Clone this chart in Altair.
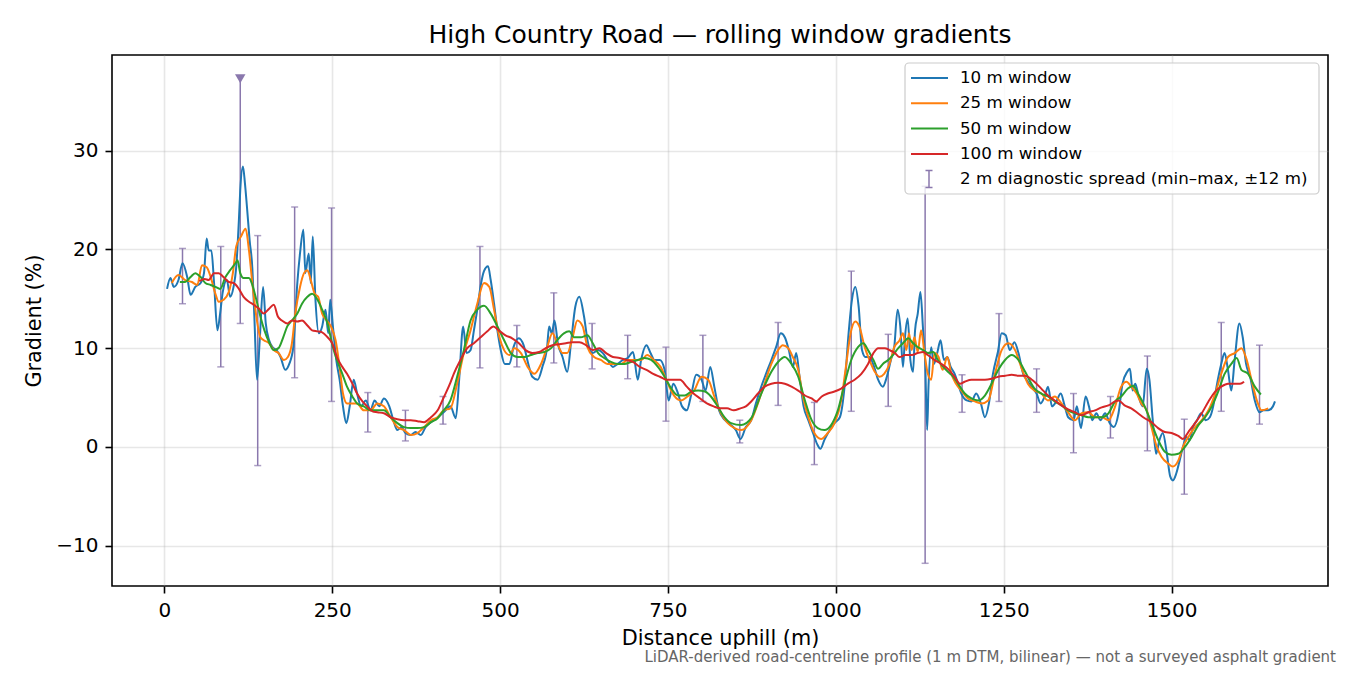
import altair as alt
import pandas as pd

FONT = "DejaVu Sans"
TITLE = "High Country Road — rolling window gradients"
NOTE = "LiDAR-derived road-centreline profile (1 m DTM, bilinear) — not a surveyed asphalt gradient"

labels = ["10 m window", "25 m window", "50 m window", "100 m window"]
colors = ["#1f77b4", "#ff7f0e", "#2ca02c", "#d62728"]
spread_label = "2 m diagnostic spread (min–max, ±12 m)"

# 10 m window (distance m, gradient %)
d10 = [4, 9, 14, 21, 27, 34, 39, 46, 54, 59, 63, 66, 70, 74, 79, 83, 87, 93, 98, 103,
       107, 111, 113, 117, 120, 123, 127, 131, 134, 138, 142, 147, 151, 156, 161, 167, 173, 180, 186, 192,
       198, 202, 207, 210, 215, 218, 221, 225, 230, 235, 240, 244, 247, 251, 256, 261, 266, 271, 276, 282,
       287, 293, 300, 307, 313, 320, 327, 335, 341, 347, 353, 359, 367, 374, 382, 389, 397, 407, 416, 426,
       434, 439, 445, 450, 456, 461, 466, 471, 476, 482, 486, 491, 496, 501, 507, 514, 520, 528, 535, 542,
       548, 556, 563, 570, 573, 577, 581, 586, 593, 600, 606, 612, 618, 625, 631, 638, 646, 653, 660, 668,
       675, 683, 690, 698, 705, 710, 718, 724, 730, 738, 745, 751, 758, 765, 771, 778, 785, 792, 800, 806,
       813, 819, 826, 835, 844, 851, 858, 866, 874, 881, 889, 896, 904, 911, 918, 924, 930, 936, 941, 946,
       952, 959, 966, 972, 977, 983, 991, 998, 1006, 1013, 1019, 1024, 1029, 1034, 1039, 1044, 1050, 1057, 1063, 1070,
       1076, 1082, 1087, 1092, 1096, 1100, 1103, 1107, 1111, 1115, 1118, 1122, 1126, 1130, 1133, 1136, 1138, 1142, 1146, 1151,
       1156, 1161, 1166, 1171, 1177, 1182, 1187, 1195, 1202, 1209, 1216, 1222, 1228, 1234, 1241, 1247, 1253, 1259, 1266, 1272,
       1279, 1284, 1291, 1299, 1305, 1311, 1316, 1322, 1329, 1335, 1341, 1346, 1354, 1359, 1365, 1372, 1377, 1382, 1388, 1394,
       1401, 1408, 1414, 1421, 1427, 1434, 1438, 1442, 1446, 1451, 1457, 1463, 1467, 1472, 1477, 1482, 1487, 1493, 1498, 1502,
       1507, 1512, 1517, 1522, 1527, 1532, 1538, 1544, 1551, 1557, 1562, 1567, 1574, 1579, 1584, 1589, 1594, 1601, 1606, 1611,
       1617, 1624, 1631, 1637, 1644, 1651, 1654]
g10 = [16.0, 17.1, 16.2, 16.9, 18.6, 17.2, 15.4, 16.2, 16.6, 17.6, 21.1, 19.9, 19.9, 16.6, 11.8, 13.5, 15.7, 16.9, 15.2, 16.2,
       18.2, 23.0, 26.0, 28.4, 26.7, 24.3, 20.9, 18.1, 13.2, 6.8, 10.8, 16.2, 12.5, 10.8, 10.1, 9.8, 9.1, 7.8, 8.4, 10.1,
       16.6, 19.6, 22.0, 17.6, 19.6, 16.6, 21.3, 14.9, 11.5, 12.2, 13.9, 11.5, 14.9, 12.2, 8.8, 6.8, 4.1, 2.4, 4.1, 6.8,
       5.4, 4.1, 4.7, 3.7, 4.7, 4.1, 4.9, 4.1, 2.7, 1.7, 2.0, 1.4, 1.2, 1.5, 1.2, 2.0, 2.5, 3.0, 3.5, 4.1,
       2.9, 6.8, 12.2, 9.5, 9.8, 11.8, 13.9, 16.3, 17.8, 18.3, 16.9, 14.5, 11.8, 9.8, 8.4, 8.4, 10.1, 11.0, 10.3, 8.4,
       7.1, 6.8, 8.1, 10.1, 12.2, 11.5, 12.8, 10.5, 9.1, 7.6, 10.8, 14.2, 15.2, 13.2, 10.5, 9.5, 9.8, 9.5, 8.8, 8.1,
       8.4, 8.8, 9.0, 9.6, 6.8, 8.8, 10.3, 9.5, 8.8, 8.8, 7.8, 4.7, 6.4, 5.4, 4.1, 3.7, 5.4, 7.3, 6.8, 5.7,
       8.1, 6.1, 3.7, 2.7, 2.2, 1.7, 0.8, 2.0, 2.7, 4.4, 6.1, 7.4, 8.8, 10.1, 11.5, 11.1, 9.8, 8.1, 9.5, 7.1,
       4.1, 2.7, 1.4, 0.3, -0.2, 0.7, 1.7, 2.4, 3.0, 6.1, 11.5, 14.9, 16.2, 14.2, 9.8, 9.1, 9.1, 8.1, 6.8, 6.1,
       7.1, 8.8, 10.1, 13.9, 12.2, 8.1, 11.1, 13.0, 8.8, 7.6, 11.8, 13.5, 15.7, 11.8, 8.8, 1.7, 6.1, 10.1, 8.4, 9.5,
       10.8, 8.8, 9.1, 8.1, 7.4, 6.4, 5.4, 4.7, 4.6, 5.4, 4.4, 3.0, 4.4, 7.4, 9.5, 11.5, 11.3, 9.8, 10.6, 9.5,
       7.4, 6.8, 6.1, 5.4, 4.4, 5.1, 6.1, 4.1, 4.7, 5.4, 4.1, 3.0, 2.7, 4.1, 1.9, 5.1, 4.1, 2.7, 3.4, 2.7,
       3.4, 2.4, 2.0, 3.4, 6.4, 7.6, 7.9, 5.7, 6.4, 5.1, 4.1, 7.9, 6.8, 2.7, -0.7, 0.7, 1.4, -0.7, -3.0, -3.4,
       -2.7, -1.4, 0.0, 1.0, 0.7, 2.0, 2.7, 3.4, 2.7, 3.0, 4.1, 6.1, 8.4, 9.5, 7.8, 5.7, 8.8, 12.5, 11.1, 8.4,
       7.1, 4.7, 3.5, 3.7, 3.7, 4.1, 4.6]

# 25 m window
d25 = [11, 21, 31, 41, 49, 56, 63, 69, 76, 81, 88, 96, 102, 107, 114, 121, 126, 131, 137, 143,
       148, 156, 163, 170, 178, 184, 190, 195, 202, 208, 213, 218, 224, 229, 235, 242, 248, 255, 261, 266,
       272, 280, 287, 297, 307, 317, 327, 337, 347, 357, 367, 377, 387, 397, 407, 416, 426, 436, 446, 456,
       466, 476, 484, 491, 499, 506, 514, 521, 531, 541, 551, 561, 570, 578, 585, 593, 600, 608, 615, 623,
       630, 640, 650, 660, 670, 680, 690, 700, 710, 719, 729, 739, 750, 760, 769, 779, 789, 800, 810, 819,
       829, 839, 849, 859, 874, 889, 904, 914, 921, 929, 936, 944, 951, 959, 968, 978, 988, 998, 1008, 1015,
       1022, 1029, 1035, 1043, 1050, 1058, 1065, 1072, 1080, 1087, 1095, 1100, 1105, 1109, 1113, 1117, 1122, 1127, 1132, 1137,
       1142, 1147, 1153, 1159, 1166, 1172, 1179, 1187, 1197, 1207, 1217, 1227, 1237, 1247, 1257, 1267, 1277, 1286, 1296, 1306,
       1316, 1326, 1336, 1346, 1356, 1366, 1376, 1386, 1396, 1406, 1416, 1425, 1433, 1440, 1448, 1455, 1463, 1470, 1478, 1485,
       1495, 1502, 1510, 1517, 1525, 1535, 1545, 1555, 1565, 1574, 1584, 1594, 1604, 1612, 1619, 1627, 1634, 1644]
g25 = [16.6, 17.4, 16.9, 16.7, 16.4, 18.4, 18.2, 17.2, 15.5, 14.7, 14.9, 15.7, 17.6, 20.3, 21.3, 22.1, 19.9, 16.6, 13.2, 11.1,
       10.8, 10.5, 9.8, 9.5, 8.8, 9.1, 10.5, 13.5, 16.2, 17.6, 17.9, 16.9, 15.5, 15.2, 13.5, 12.8, 12.2, 10.8, 8.1, 5.4,
       4.4, 4.4, 4.4, 3.7, 3.7, 4.4, 4.1, 3.0, 2.0, 1.7, 1.2, 1.4, 2.0, 2.7, 3.0, 3.7, 3.9, 6.4, 9.5, 11.8,
       14.5, 16.6, 16.2, 13.9, 11.1, 9.8, 9.3, 10.0, 9.5, 8.1, 7.4, 8.4, 10.1, 11.5, 10.5, 9.5, 9.5, 11.1, 12.8, 12.2,
       10.1, 9.1, 8.8, 8.4, 8.4, 8.4, 8.8, 8.8, 8.8, 9.3, 8.8, 8.1, 6.4, 5.1, 4.7, 5.1, 5.7, 7.1, 6.8, 5.1,
       3.4, 2.4, 1.9, 1.7, 2.7, 5.4, 8.4, 9.8, 10.3, 10.0, 9.1, 7.8, 5.1, 3.0, 1.4, 0.8, 1.4, 2.4, 4.7, 8.1,
       11.5, 12.7, 12.2, 10.1, 8.8, 7.6, 7.1, 7.4, 8.4, 10.1, 10.8, 11.5, 9.8, 11.5, 9.8, 11.1, 9.6, 11.8, 9.5, 7.4,
       6.8, 9.5, 9.1, 7.8, 9.1, 7.4, 6.4, 5.7, 4.9, 4.6, 4.4, 4.7, 7.4, 9.8, 10.5, 9.8, 7.9, 6.4, 5.7, 5.4,
       4.7, 5.1, 4.4, 3.5, 2.7, 3.4, 3.5, 3.0, 3.0, 2.7, 4.1, 6.1, 6.6, 6.1, 5.4, 4.4, 3.7, 2.0, 0.0, -1.0,
       -1.7, -2.0, -1.4, 0.0, 1.0, 2.0, 2.7, 3.7, 5.4, 7.4, 9.1, 9.5, 10.0, 8.8, 6.8, 4.7, 3.7, 3.9]

# 50 m window
d50 = [23, 31, 39, 46, 54, 61, 69, 76, 83, 91, 98, 106, 109, 113, 118, 126, 131, 137, 143, 149,
       156, 163, 170, 177, 183, 190, 198, 205, 213, 220, 228, 235, 243, 251, 257, 265, 272, 280, 287, 297,
       307, 317, 327, 337, 347, 357, 367, 377, 387, 397, 407, 416, 426, 436, 446, 456, 466, 476, 486, 496,
       506, 516, 526, 536, 546, 556, 566, 576, 585, 595, 603, 610, 620, 630, 638, 646, 655, 665, 675, 685,
       695, 705, 715, 725, 735, 745, 755, 765, 775, 785, 795, 805, 814, 824, 834, 844, 859, 874, 889, 904,
       914, 924, 934, 944, 954, 964, 973, 983, 993, 1003, 1013, 1023, 1033, 1041, 1048, 1056, 1063, 1070, 1078, 1085,
       1093, 1100, 1108, 1115, 1122, 1130, 1137, 1145, 1152, 1160, 1167, 1175, 1182, 1192, 1202, 1212, 1222, 1232, 1242, 1252,
       1262, 1272, 1282, 1296, 1306, 1316, 1326, 1336, 1346, 1356, 1366, 1376, 1386, 1396, 1406, 1416, 1425, 1435, 1443, 1450,
       1460, 1470, 1480, 1490, 1500, 1510, 1520, 1530, 1540, 1550, 1560, 1570, 1579, 1589, 1597, 1604, 1614, 1624, 1633]
g50 = [16.7, 16.7, 17.2, 17.6, 17.2, 16.6, 16.4, 16.2, 16.0, 17.2, 17.9, 18.6, 18.9, 17.6, 17.1, 17.1, 16.4, 14.9, 13.2, 11.8,
       10.6, 9.8, 10.0, 11.1, 12.2, 12.8, 13.5, 14.5, 15.2, 15.5, 14.9, 13.9, 12.5, 10.1, 8.8, 7.4, 6.1, 5.1, 4.4, 4.1,
       3.7, 3.7, 3.7, 3.0, 2.4, 2.0, 1.9, 1.9, 2.0, 2.5, 2.9, 3.7, 4.7, 7.1, 9.8, 12.8, 13.9, 14.3, 13.5, 12.2,
       10.8, 9.5, 9.1, 9.1, 9.3, 9.5, 9.6, 10.0, 10.8, 11.5, 11.7, 11.1, 11.1, 11.3, 10.5, 9.5, 9.0, 8.6, 8.4, 8.4,
       8.6, 8.8, 9.0, 8.8, 8.1, 7.1, 5.9, 5.2, 5.2, 5.6, 5.7, 5.6, 5.1, 4.1, 3.0, 2.4, 2.2, 2.9, 5.4, 7.6,
       8.6, 9.1, 8.4, 7.1, 4.7, 2.7, 1.9, 1.7, 2.2, 3.7, 6.4, 8.8, 10.1, 10.5, 9.8, 8.8, 7.9, 8.4, 8.8, 9.3,
       10.0, 10.5, 11.0, 10.5, 10.1, 9.8, 9.5, 9.6, 8.8, 8.1, 7.6, 7.1, 6.4, 5.4, 4.9, 4.7, 5.2, 6.4, 7.8, 8.8,
       9.3, 8.8, 7.6, 5.9, 5.4, 5.1, 4.6, 4.2, 3.7, 3.4, 3.2, 3.0, 3.0, 3.0, 3.4, 4.6, 5.1, 5.9, 6.2, 5.4,
       4.1, 2.4, 0.7, -0.5, -0.8, -0.7, 0.0, 1.0, 2.2, 3.0, 4.1, 5.7, 7.4, 8.4, 9.0, 7.8, 7.4, 6.1, 5.3]

# 100 m window
d100 = [52, 60, 66, 74, 81, 88, 96, 103, 111, 118, 126, 133, 141, 148, 156, 163, 169, 175, 183, 190,
        198, 205, 213, 220, 228, 235, 243, 250, 257, 265, 272, 280, 287, 295, 302, 310, 317, 327, 337, 347,
        357, 367, 377, 387, 397, 407, 416, 426, 431, 441, 451, 461, 471, 481, 490, 498, 508, 518, 528, 538,
        548, 558, 568, 578, 588, 598, 608, 618, 628, 638, 648, 658, 668, 678, 688, 698, 708, 718, 728, 738,
        748, 758, 768, 778, 788, 798, 808, 818, 828, 838, 848, 858, 866, 874, 884, 894, 904, 914, 924, 934,
        944, 954, 964, 971, 979, 988, 998, 1008, 1018, 1028, 1038, 1048, 1056, 1063, 1073, 1080, 1088, 1095, 1103, 1113,
        1122, 1130, 1137, 1147, 1157, 1167, 1177, 1185, 1192, 1202, 1212, 1222, 1232, 1242, 1252, 1262, 1272, 1282, 1292, 1306,
        1316, 1326, 1336, 1346, 1356, 1366, 1376, 1386, 1396, 1406, 1416, 1421, 1430, 1440, 1450, 1460, 1470, 1480, 1490, 1500,
        1510, 1517, 1525, 1535, 1545, 1555, 1565, 1574, 1584, 1594, 1602, 1608]
g100 = [16.8, 17.0, 16.9, 17.6, 17.6, 17.2, 16.7, 16.6, 16.0, 15.2, 14.7, 14.4, 14.0, 13.5, 14.0, 14.4, 13.2, 12.8, 12.5, 12.8,
        12.7, 12.8, 12.3, 11.8, 11.7, 11.6, 11.1, 10.5, 9.1, 8.1, 7.4, 6.4, 5.4, 4.6, 4.1, 3.6, 3.5, 3.4, 3.0, 2.8,
        2.7, 2.7, 2.6, 2.5, 3.0, 3.7, 5.0, 6.5, 7.4, 8.8, 10.0, 10.5, 11.1, 11.7, 12.2, 11.8, 11.3, 11.0, 10.5, 9.8,
        9.5, 9.6, 10.0, 10.3, 10.4, 10.5, 10.6, 10.6, 10.3, 9.8, 10.0, 9.5, 9.1, 9.0, 8.8, 8.6, 8.1, 7.8, 7.4, 7.1,
        6.8, 6.8, 6.8, 6.1, 5.4, 4.9, 4.4, 4.1, 3.9, 3.9, 3.7, 3.9, 4.1, 4.6, 5.4, 6.1, 6.4, 6.5, 6.4, 6.1,
        5.7, 5.2, 4.9, 4.6, 5.1, 5.4, 5.6, 5.9, 6.4, 6.8, 7.4, 8.4, 9.5, 10.0, 10.0, 9.8, 9.5, 9.1, 9.3, 9.3,
        9.5, 9.6, 9.3, 8.8, 8.4, 7.9, 7.1, 6.4, 6.6, 6.8, 6.8, 6.8, 6.9, 7.1, 7.2, 7.3, 7.2, 7.2, 6.8, 5.9,
        5.2, 4.7, 4.2, 3.8, 3.5, 3.2, 3.5, 3.7, 4.0, 4.2, 4.6, 4.7, 4.2, 3.9, 3.4, 2.9, 2.5, 1.9, 1.5, 1.4,
        1.1, 0.8, 1.5, 2.4, 3.4, 4.6, 5.6, 6.1, 6.4, 6.4, 6.4, 6.6]

# 2 m diagnostic spread: min and max within +-12 m
eb_d = [27, 84, 113, 139, 194, 249, 303, 359, 415, 470, 525, 580, 637, 690, 747, 802,
        857, 914, 968, 1023, 1078, 1133, 1188, 1243, 1299, 1354, 1409, 1464, 1519, 1574, 1631]
eb_lo = [14.5, 8.1, 12.5, -1.9, 7.0, 4.6, 1.5, 0.6, 2.3, 8.0, 8.1, 8.5, 7.9, 6.9, 2.6, 4.6,
         0.4, 4.2, -1.8, 3.6, 4.1, -11.8, 3.5, 4.6, 3.5, -0.6, 0.9, -0.4, -4.8, 3.6, 2.3]
eb_hi = [20.1, 20.3, 37.3, 21.4, 24.3, 24.2, 5.5, 3.7, 5.1, 20.3, 12.3, 15.6, 12.5, 11.3, 10.1, 11.3,
         2.7, 12.6, 4.5, 17.8, 11.4, 26.4, 7.3, 13.5, 7.9, 5.4, 5.1, 9.2, 2.8, 12.6, 10.3]
# spread that runs off the top of the plot
clip_d = [113]
clip_g = [37.3]

SPREAD = "#8a78ad"
LINE_PATH = "M-1,0L2.7,0"
ERR_PATH = "M0.8,-0.85L0.8,0.85M0.45,-0.85L1.15,-0.85M0.45,0.85L1.15,0.85"

x_enc = alt.X("d:Q", scale=alt.Scale(domain=[-78, 1733], nice=False, zero=False),
              axis=alt.Axis(values=[0, 250, 500, 750, 1000, 1250, 1500], format="d",
                            title="Distance uphill (m)", titlePadding=8))
y_axis = alt.Axis(values=[-10, 0, 10, 20, 30], title="Gradient (%)", titlePadding=11,
                  labelExpr="replace(datum.label, '-', '\u2212')")
y_scale = alt.Scale(domain=[-14.1, 39.7], nice=False, zero=False)

legend_common = dict(title=None, orient="none", legendX=798, padding=0,
                     labelFont=FONT, labelFontSize=16.7, labelColor="#000", labelOffset=28,
                     labelLimit=600, symbolSize=400, symbolFillColor="transparent")

color = alt.Color(
    "series:N",
    scale=alt.Scale(domain=labels, range=colors),
    legend=alt.Legend(legendY=12, rowPadding=5.3, symbolType=LINE_PATH, symbolStrokeWidth=2,
                      **legend_common),
)

spread = pd.DataFrame({"d": eb_d, "lo": eb_lo, "hi": eb_hi, "kind": spread_label})
cap_d = eb_d + [d for d in eb_d if d not in clip_d]
cap_g = eb_lo + [h for d, h in zip(eb_d, eb_hi) if d not in clip_d]
caps = pd.DataFrame({"d": cap_d, "g": cap_g})

rules = alt.Chart(spread).mark_rule(color=SPREAD, strokeWidth=1.5).encode(
    x=x_enc, y=alt.Y("lo:Q", scale=y_scale, axis=y_axis), y2="hi:Q",
    opacity=alt.Opacity("kind:O", scale=alt.Scale(domain=[spread_label], range=[0.7]),
                        legend=alt.Legend(legendY=113, symbolType=ERR_PATH, symbolStrokeColor=SPREAD,
                                          symbolStrokeWidth=1.5, **legend_common)))
ticks = alt.Chart(caps).mark_tick(orient="horizontal", color=SPREAD, opacity=0.7,
                                   size=7, thickness=1.5).encode(
    x=x_enc, y=alt.Y("g:Q", scale=y_scale, axis=y_axis))


def window_line(d, g, name):
    df = pd.DataFrame({"d": d, "g": g, "series": name})
    return alt.Chart(df).mark_line(strokeWidth=2, interpolate="monotone").encode(
        x=x_enc, y=alt.Y("g:Q", scale=y_scale, axis=y_axis), color=color)


lines = [window_line(d10, g10, labels[0]), window_line(d25, g25, labels[1]),
         window_line(d50, g50, labels[2]), window_line(d100, g100, labels[3])]

marker = alt.Chart(pd.DataFrame({"d": clip_d, "g": clip_g})).mark_point(
    shape="triangle-down", filled=True, size=110, color=SPREAD, opacity=1).encode(
    x=x_enc, y=alt.Y("g:Q", scale=y_scale, axis=y_axis))

# legend frame (matplotlib style box)
frame = alt.Chart(pd.DataFrame({"f": [0]})).mark_rect(
    fill="white", fillOpacity=0.8, stroke="#cccccc", strokeWidth=1.2, cornerRadius=4).encode(
    x=alt.value(793), x2=alt.value(1207), y=alt.value(8), y2=alt.value(139))

note = alt.Chart(pd.DataFrame({"t": [NOTE]})).mark_text(
    align="right", baseline="middle", font=FONT, fontSize=15, color="#666666").encode(
    x=alt.value(1224), y=alt.value(602), text="t:N")

chart = alt.layer(rules, ticks, *lines, marker, frame, note).properties(
    width=1216, height=531,
    autosize=alt.AutoSizeParams(type="none"),
    padding={"left": 104, "top": 47, "right": 12, "bottom": 81},
    title=alt.TitleParams(TITLE, font=FONT, fontSize=25, fontWeight="normal", color="#000",
                          anchor="middle", offset=7),
).configure_view(
    stroke="#000", strokeWidth=1.6
).configure_axis(
    labelFont=FONT, labelFontSize=20, labelColor="#000",
    titleFont=FONT, titleFontSize=20.8, titleFontWeight="normal", titleColor="#000",
    tickColor="#000", tickSize=7, tickWidth=1.6, labelPadding=7, domain=False,
    gridColor="#b0b0b0", gridOpacity=0.3, gridWidth=1.6,
)

chart.save("out.html", embed_options={"renderer": "svg", "actions": False})
